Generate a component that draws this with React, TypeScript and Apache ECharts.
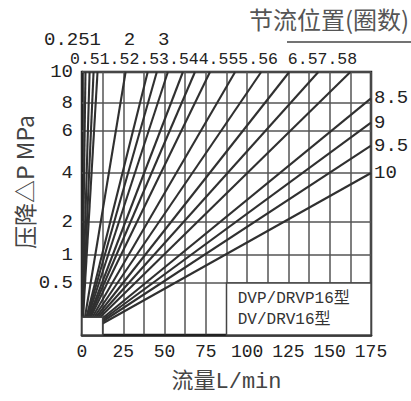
import React, { useEffect, useRef } from "react";
import * as echarts from "echarts";

// throttle positions (turns) whose curves end on the 10 MPa top edge
const topPositions = ["0.25", "0.5", "1", "1.5", "2", "2.5", "3", "3.5", "4", "4.5", "5", "5.5", "6", "6.5", "7.5", "8"];
const topFlows = [2.1, 4.6, 7.0, 9.4, 26.4, 39.8, 45.3, 52.0, 61.1, 68.4, 77.5, 92.7, 108.5, 125.5, 143.1, 162.5];
const topPressure = 10;

// throttle positions whose curves end on the right edge (175 L/min)
const sidePositions = ["8.5", "9", "9.5", "10"];
const sidePressures = [8.3, 6.6, 5.3, 4.0];
const sideFlow = 175;

// pressure axis (non-linear chart scale)
const pressureTicks = [0.5, 1, 2, 4, 6, 8, 10];
const pressureTickLabels = ["0.5", "1", "2", "4", "6", "8", "10"];
const scaleP = [0, 0.5, 1, 2, 4, 6, 8, 10];
const scaleU = [0, 52, 80, 113, 162, 204, 232, 263];

// header texts above the chart
const topRowA = "0.251  2  3";
const topRowB = "0.51.52.53.544.555.56 6.57.58";
const titleText = "节流位置(圈数)";
const yName = "压降△P MPa";
const xName = "流量L/min";
const modelText = "DVP/DRVP16型\nDV/DRV16型";

// boxes
const cornerBox = { flow: 12.5, pressure: 0.17 };
const modelBox = { flowFrom: 87.5, flowTo: 175, pressure: 0.5 };

function toU(p: number): number {
  for (let i = 0; i < scaleP.length - 1; i++) {
    if (p <= scaleP[i + 1]) {
      const t = (p - scaleP[i]) / (scaleP[i + 1] - scaleP[i]);
      return scaleU[i] + t * (scaleU[i + 1] - scaleU[i]);
    }
  }
  return scaleU[scaleU.length - 1];
}

const MONO = '"Liberation Mono", "DejaVu Sans Mono", monospace';
const CJK = '"Noto Sans CJK SC", "Noto Sans", sans-serif';
const LINE_COLOR = "#303030";
const GRID_COLOR = "#555";

export default function App() {
  const ref = useRef<HTMLDivElement>(null);
  useEffect(() => {
    if (!ref.current) return;
    const chart = echarts.init(ref.current, null, { renderer: "svg" });
    const tickU = pressureTicks.map(toU);

    const fanSeries: any[] = [];
    topPositions.forEach((name, i) => {
      fanSeries.push({
        type: "line",
        name,
        data: [[0, 0], [topFlows[i], toU(topPressure)]],
        showSymbol: false,
        symbol: "none",
        silent: true,
        z: 3,
        lineStyle: { color: LINE_COLOR, width: 2.1 },
      });
    });
    sidePositions.forEach((name, i) => {
      fanSeries.push({
        type: "line",
        name,
        data: [[0, 0], [sideFlow, toU(sidePressures[i])]],
        showSymbol: false,
        symbol: "none",
        silent: true,
        z: 3,
        lineStyle: { color: LINE_COLOR, width: 2.1 },
        endLabel: {
          show: true,
          formatter: name,
          fontFamily: MONO,
          fontSize: 19,
          color: "#222",
          distance: 3,
        },
      });
    });

    chart.setOption({
      animation: false,
      title: {
        text: titleText,
        left: 324,
        top: 1,
        textAlign: "center",
        textStyle: { fontFamily: CJK, fontSize: 24, fontWeight: "normal", color: "#555" },
      },
      grid: {
        left: 82,
        right: 40,
        top: 72,
        bottom: 66,
        show: true,
        borderColor: "#222",
        borderWidth: 2.5,
        backgroundColor: "transparent",
        outerBoundsMode: "none",
      },
      xAxis: {
        type: "value",
        min: 0,
        max: 175,
        interval: 12.5,
        name: xName,
        nameLocation: "middle",
        nameGap: 36,
        nameTextStyle: { fontFamily: MONO + ", " + CJK, fontSize: 22, color: "#444" },
        axisLine: { show: true, lineStyle: { color: "#222", width: 2.5 } },
        axisTick: { show: false },
        axisLabel: {
          interval: 0,
          margin: 8,
          fontFamily: MONO,
          fontSize: 18,
          color: "#222",
          hideOverlap: false,
          formatter: (v: number) => (v % 25 === 0 ? String(v) : ""),
        },
        splitLine: { show: true, lineStyle: { color: GRID_COLOR, width: 1.5 } },
      },
      yAxis: {
        type: "value",
        min: 0,
        max: scaleU[scaleU.length - 1],
        axisLine: { show: true, lineStyle: { color: "#222", width: 2.5 } },
        axisTick: { show: false },
        splitLine: { show: false },
        axisLabel: {
          customValues: tickU,
          margin: 9,
          fontFamily: MONO,
          fontSize: 19,
          color: "#222",
          hideOverlap: false,
          formatter: (v: number) => {
            let best = 0;
            tickU.forEach((u, i) => {
              if (Math.abs(u - v) < Math.abs(tickU[best] - v)) best = i;
            });
            return pressureTickLabels[best];
          },
        },
      },
      graphic: [
        {
          type: "text",
          x: 44,
          y: 40,
          style: { text: topRowA, fontFamily: MONO, fontSize: 19, fill: "#222", verticalAlign: "middle" },
        },
        {
          type: "text",
          x: 70,
          y: 59,
          style: { text: topRowB, fontFamily: MONO, fontSize: 16.5, fill: "#222", verticalAlign: "middle" },
        },
        {
          type: "line",
          shape: { x1: 287, y1: 42, x2: 411, y2: 42 },
          style: { stroke: "#444", lineWidth: 1.5 },
        },
        {
          type: "text",
          x: 24,
          y: 182,
          rotation: Math.PI / 2,
          style: {
            text: yName,
            fontFamily: CJK,
            fontSize: 23,
            fill: "#444",
            align: "center",
            verticalAlign: "middle",
          },
        },
      ],
      series: [
        {
          type: "line",
          data: [],
          silent: true,
          z: 1,
          markLine: {
            silent: true,
            symbol: "none",
            z: 1,
            label: { show: false },
            lineStyle: { color: GRID_COLOR, width: 1.5, type: "solid" },
            data: tickU.map((u) => ({ yAxis: u })),
          },
        },
        ...fanSeries,
        {
          type: "line",
          data: [],
          silent: true,
          z: 10,
          markArea: {
            silent: true,
            z: 10,
            itemStyle: { color: "#fff", borderColor: "#444", borderWidth: 1.5 },
            data: [
              [
                { coord: [0, 0] },
                { coord: [cornerBox.flow, toU(cornerBox.pressure)] },
              ],
              [
                {
                  name: modelText,
                  coord: [modelBox.flowFrom, 0],
                  label: {
                    show: true,
                    position: "insideLeft",
                    distance: 12,
                    fontFamily: MONO + ", " + CJK,
                    fontSize: 16,
                    lineHeight: 21,
                    color: "#333",
                  },
                },
                { coord: [modelBox.flowTo, toU(modelBox.pressure)] },
              ],
            ],
          },
        },
      ],
    });
    return () => chart.dispose();
  }, []);
  return (
    <div
      ref={ref}
      style={{ position: "fixed", left: 0, top: 0, width: 411, height: 401, background: "#fff" }}
    />
  );
}
